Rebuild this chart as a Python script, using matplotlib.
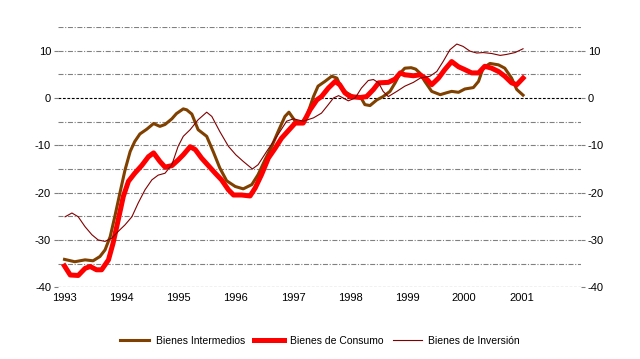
import numpy as np
import matplotlib
matplotlib.use('Agg')
import matplotlib.pyplot as plt

plt.rcParams['font.family'] = ['Liberation Sans', 'DejaVu Sans']

# Bienes Intermedios (años decimales, valores)
inter_x = [1993.00, 1993.18, 1993.36, 1993.50, 1993.62, 1993.71, 1993.80, 1993.88, 1993.97,
           1994.06, 1994.15, 1994.23, 1994.32, 1994.44, 1994.56, 1994.67, 1994.76, 1994.88,
           1994.96, 1995.08, 1995.14, 1995.23, 1995.34, 1995.49, 1995.61, 1995.72, 1995.84,
           1995.99, 1996.13, 1996.28, 1996.39, 1996.51, 1996.63, 1996.74, 1996.86, 1996.93,
           1997.04, 1997.15, 1997.24, 1997.36, 1997.44, 1997.56, 1997.68, 1997.77, 1997.85,
           1997.94, 1998.06, 1998.18, 1998.26, 1998.35, 1998.47, 1998.58, 1998.70, 1998.79,
           1998.88, 1998.96, 1999.07, 1999.15, 1999.22, 1999.31, 1999.43, 1999.58, 1999.69,
           1999.78, 1999.90, 2000.01, 2000.16, 2000.25, 2000.33, 2000.45, 2000.60, 2000.71,
           2000.83, 2000.92, 2001.03]
inter_y = [-34.1, -34.6, -34.2, -34.4, -33.5, -32.1, -29.3, -25.1, -20.1,
           -15.2, -11.3, -9.2, -7.6, -6.6, -5.4, -6.0, -5.6, -4.4,
           -3.3, -2.3, -2.5, -3.4, -6.7, -8.1, -11.5, -14.8, -17.5,
           -18.7, -19.2, -18.3, -16.2, -13.1, -10.2, -7.1, -3.9, -3.0,
           -4.9, -5.2, -3.9, 0.3, 2.5, 3.5, 4.6, 4.2, 2.1,
           1.1, 0.3, 0.3, -1.4, -1.6, -0.4, 0.3, 1.4, 3.2,
           5.3, 6.3, 6.4, 6.1, 5.3, 3.5, 1.4, 0.7, 1.1,
           1.4, 1.2, 1.9, 2.2, 3.5, 6.3, 7.3, 7.0, 6.3,
           4.2, 1.8, 0.6]

# Bienes de Consumo
cons_x = [1993.00, 1993.10, 1993.24, 1993.36, 1993.45, 1993.56, 1993.65, 1993.77, 1993.85,
          1993.94, 1994.03, 1994.12, 1994.23, 1994.35, 1994.47, 1994.56, 1994.67, 1994.76,
          1994.88, 1994.99, 1995.08, 1995.20, 1995.29, 1995.40, 1995.52, 1995.64, 1995.75,
          1995.87, 1995.96, 1996.10, 1996.25, 1996.34, 1996.45, 1996.57, 1996.69, 1996.80,
          1996.92, 1997.04, 1997.18, 1997.30, 1997.42, 1997.50, 1997.62, 1997.74, 1997.82,
          1997.91, 1998.00, 1998.18, 1998.29, 1998.41, 1998.50, 1998.67, 1998.79, 1998.88,
          1998.96, 1999.11, 1999.23, 1999.35, 1999.43, 1999.55, 1999.66, 1999.78, 1999.90,
          2000.01, 2000.13, 2000.25, 2000.36, 2000.48, 2000.60, 2000.71, 2000.83, 2000.92,
          2001.03]
cons_y = [-35.5, -37.4, -37.5, -36.0, -35.6, -36.3, -36.3, -34.2, -30.7,
          -25.8, -20.8, -17.6, -15.9, -14.3, -12.4, -11.6, -13.4, -14.6,
          -14.3, -13.1, -12.0, -10.3, -10.9, -12.7, -14.3, -15.9, -17.3,
          -19.4, -20.5, -20.5, -20.7, -19.0, -16.2, -12.7, -10.6, -8.5,
          -6.9, -5.3, -5.3, -2.5, -0.4, 0.3, 2.1, 3.5, 2.8,
          1.1, 0.3, 0.1, 0.3, 1.8, 3.2, 3.3, 4.0, 5.3,
          4.9, 4.7, 4.9, 3.9, 2.8, 4.2, 6.0, 7.7, 6.6,
          6.0, 5.3, 5.3, 6.7, 6.3, 5.6, 4.6, 3.2, 2.8,
          4.2]

# Bienes de Inversión
inv_x = [1993.01, 1993.13, 1993.24, 1993.36, 1993.48, 1993.59, 1993.71, 1993.83, 1993.94,
         1994.06, 1994.18, 1994.29, 1994.41, 1994.53, 1994.64, 1994.76, 1994.88, 1994.99,
         1995.08, 1995.20, 1995.34, 1995.49, 1995.58, 1995.72, 1995.87, 1996.00, 1996.13,
         1996.29, 1996.39, 1996.54, 1996.72, 1996.89, 1997.01, 1997.18, 1997.36, 1997.50,
         1997.62, 1997.71, 1997.80, 1997.88, 1997.97, 1998.09, 1998.20, 1998.32, 1998.41,
         1998.50, 1998.58, 1998.67, 1998.82, 1998.96, 1999.11, 1999.23, 1999.40, 1999.52,
         1999.63, 1999.75, 1999.87, 1999.98, 2000.10, 2000.22, 2000.33, 2000.48, 2000.63,
         2000.74, 2000.89, 2001.03]
inv_y = [-25.1, -24.3, -25.1, -27.2, -28.9, -30.0, -30.3, -29.6, -28.2,
         -26.8, -25.1, -22.2, -19.4, -17.3, -16.3, -15.9, -14.1, -10.2,
         -8.1, -6.7, -4.6, -3.0, -3.9, -7.1, -10.2, -12.0, -13.4,
         -15.0, -14.1, -11.3, -8.1, -4.9, -4.4, -4.9, -4.2, -3.2,
         -1.4, 0.0, 0.5, 0.0, -0.6, 0.0, 2.1, 3.7, 3.9,
         3.2, 1.4, 0.3, 1.4, 2.5, 3.3, 4.2, 4.6, 5.6,
         7.7, 10.2, 11.4, 10.9, 9.9, 9.5, 9.6, 9.4, 9.0,
         9.2, 9.6, 10.4]

years = list(range(1993, 2002))
grid_levels = [15, 10, 5, -5, -10, -15, -20, -25, -30, -35]
labeled = [10, 0, -10, -20, -30, -40]

fig = plt.figure(figsize=(6.4, 3.59), dpi=100)
ax = fig.add_axes([58 / 640, 1 - 287.3 / 359, 523 / 640, 260.3 / 359])

for lv in grid_levels:
    ax.axhline(lv, color='#808080', lw=0.8, ls=(0, (4.5, 1.5, 1, 1.5)), zorder=1)
for lv in [0, -40]:
    ax.axhline(lv, color='black', lw=0.8, ls=(0, (2.5, 1.5)), zorder=1)

ax.plot(inter_x, inter_y, color='#804000', lw=2.2, label='Bienes Intermedios', zorder=3)
ax.plot(cons_x, cons_y, color='#ff0000', lw=3.6, label='Bienes de Consumo', zorder=4)
ax.plot(inv_x, inv_y, color='#800000', lw=0.8, label='Bienes de Inversión', zorder=5)

ax.set_xlim(1992.886, 2002.045)
ax.set_ylim(-40, 15)
ax.set_yticks(labeled)
ax.set_yticklabels([str(v) for v in labeled])
ax.set_xticks(years)
ax.set_xticklabels([str(y) for y in years])
for s in ax.spines.values():
    s.set_visible(False)
ax.tick_params(axis='y', which='both', left=True, right=True, labelleft=True, labelright=True,
               length=3, width=0.8, color='#808080', labelsize=8, pad=2)
ax.tick_params(axis='x', length=0, labelsize=8, pad=4)

fig.legend(loc='center', bbox_to_anchor=(0.5, 1 - 341 / 359), ncol=3, frameon=False,
           fontsize=7.5, handlelength=2.8, handletextpad=0.6, columnspacing=0.9)

fig.savefig('out.png', dpi=100)
